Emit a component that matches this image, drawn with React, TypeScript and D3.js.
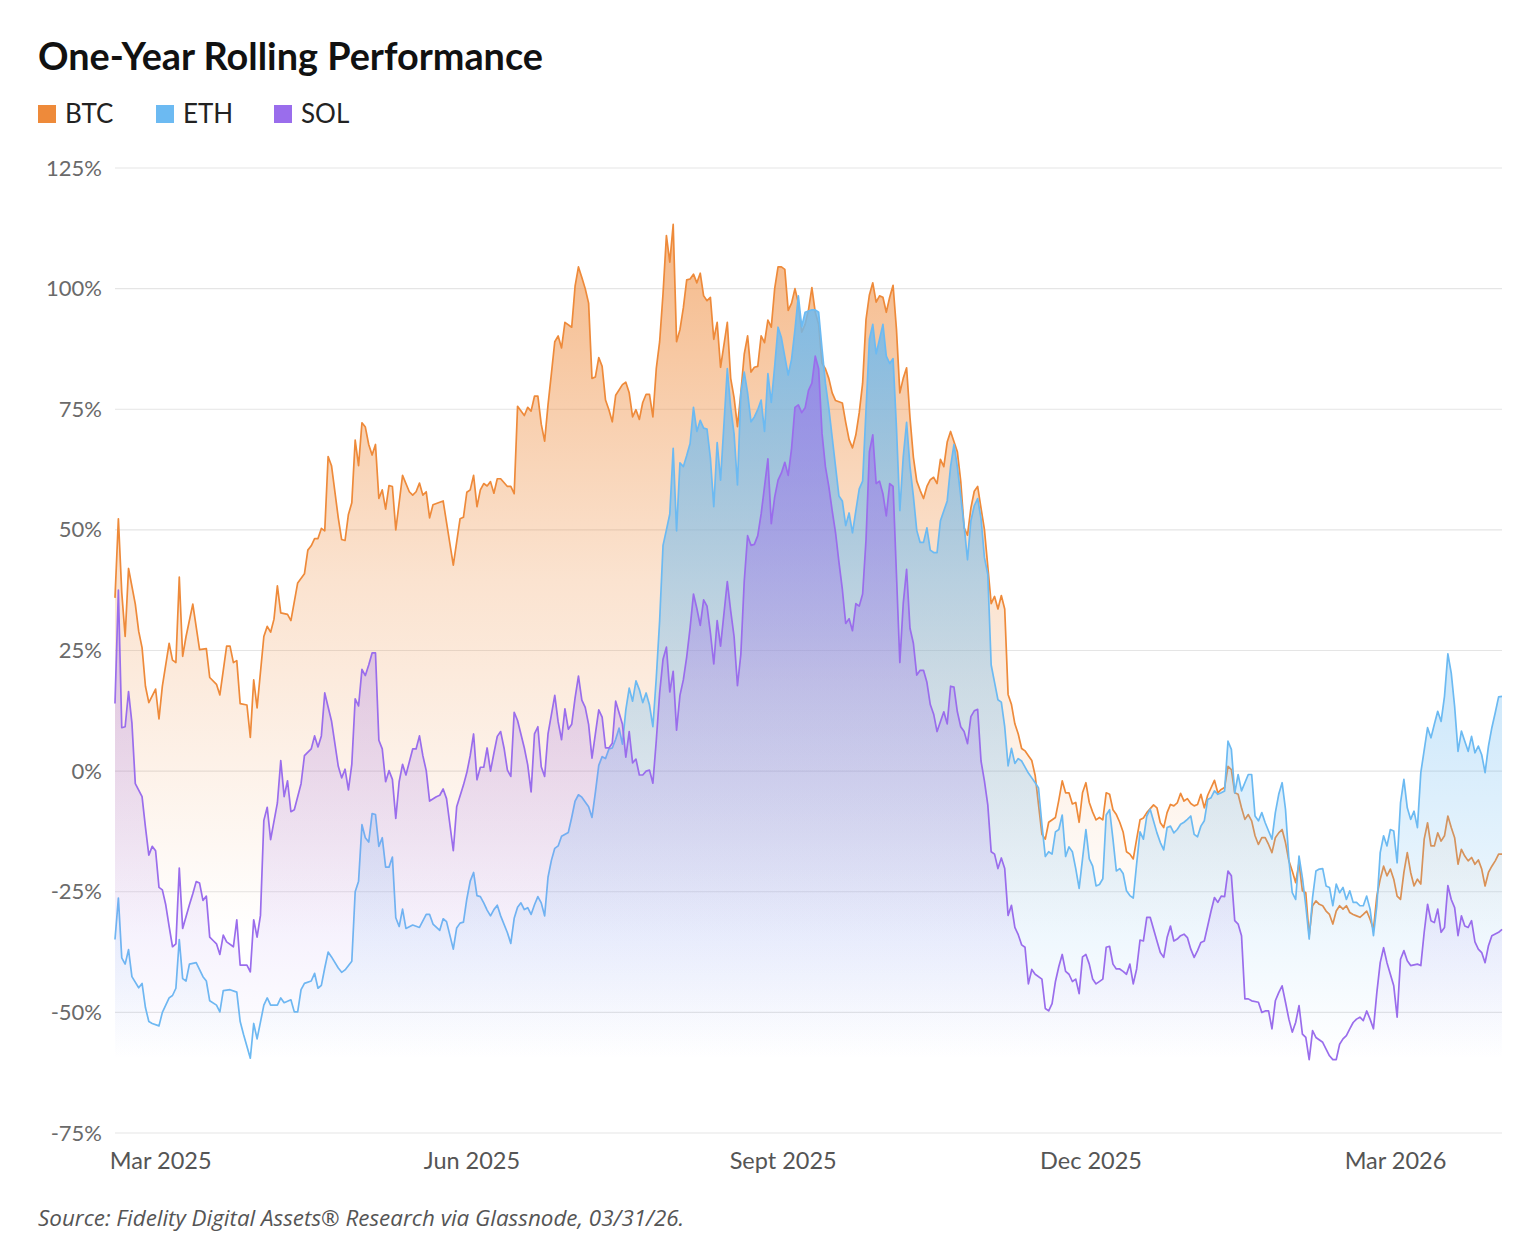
import * as d3 from "d3";

// one-year rolling return (%); first value of each pair = days after START
const START = new Date(2025, 1, 14);
const END = new Date(2026, 2, 31);

const btc: [number, number][] = [
  [0,35.9],[1,52.3],[2,37],[3,27.9],[4,42],[6,34.6],[7,29],[8,25.6],[9,17.6],[10,14.2],[12,17],[13,10.8],[14,17.6],[16,26.5],[17,23],[18,22.5],[19,40.2],[20,23.8],[21,27.9],[23,34.6],[25,25.2],[27,25.4],[28,19.4],[30,18],[31,15.8],[33,25.9],[34,25.9],[35,22.5],[36,22.9],[37,14],[39,13.7],[40,7],[41,18.9],[42,13.1],[44,27.9],[45,30],[46,28.8],[47,31.5],[48,38.4],[49,32.8],[51,32.5],[52,31.2],[54,39],[56,40.9],[57,45.8],[58,46.7],[59,48.2],[60,48.2],[61,50.3],[62,49.8],[63,65.2],[64,63.3],[66,52.5],[67,48],[68,47.8],[69,53.2],[70,55.6],[71,68.6],[72,63.3],[73,72.2],[74,71.3],[75,67.7],[76,65.5],[77,67.7],[78,56.5],[79,58.3],[80,54.3],[81,59.2],[82,59],[83,50],[85,61.3],[87,57.9],[88,57.2],[89,57.9],[90,59.7],[91,57.2],[92,57.9],[93,52.5],[94,55.2],[97,56],[100,42.7],
  [102,52.3],[103,52.6],[104,57.8],[105,58.3],[106,61.3],[107,54.8],[108,58.3],[109,59.6],[110,59.1],[111,60],[112,57.6],[113,60.6],[114,60.6],[116,59],[117,59],[118,57.5],[119,75.6],[121,73.7],[122,75.4],[123,74.6],[124,77.7],[125,77.7],[126,71.9],[127,68.4],[128,75.9],[129,82.4],[130,89],[131,90.2],[132,87.7],[133,93],[135,92],[136,100.5],[137,104.5],[138,102.3],[139,100],[140,97],[141,81.4],[142,81.7],[143,85.7],[144,83.9],[145,76.9],[146,74.9],[147,72.4],[148,77.9],[150,80.1],[151,80.6],[152,78.4],[153,73.4],[154,74.9],[155,72.9],[156,76.4],[157,78.1],[158,78.1],[159,73.4],[160,83.4],[161,89],[162,99],[163,111],[164,105.5],[165,113.3],[166,89],[167,91.5],[168,96],[169,101.8],[170,102],[171,103],[172,101.2],[173,103.2],[174,98.5],[175,97.5],[176,98.2],[177,89.5],[178,93],[179,83.7],[181,93],[182,81.4],[183,77.4],[184,71.4],[185,78.4],[186,86.4],[187,90.2],[188,82.7],[189,83.7],[190,83.9],[191,90.2],[192,88.8],[193,93.5],[194,92],[195,100],[196,104.5],[197,104.5],[198,104],[199,95.5],[200,97],[201,100],[202,97],
  [203,91],[204,92.6],[205,95.6],[206,100.2],[207,95.1],[208,92.6],[209,84.5],[210,83.4],[211,81.4],[212,78.4],[213,76.8],[215,76.3],[216,72.3],[217,68.7],[218,67],[219,69.7],[220,74.3],[221,80.4],[222,93.6],[223,98.7],[224,101.2],[225,97.2],[226,98.5],[227,98.2],[228,95.1],[229,98.2],[230,100.7],[231,91.6],[232,78.4],[233,81.4],[234,83.6],[235,73.3],[236,65.1],[237,60.1],[238,58.2],[239,56.5],[240,59],[241,60.4],[242,60.9],[243,59.6],[244,64.6],[245,63.1],[246,68.2],[247,70.4],[249,66.2],[250,60.1],[251,50.4],[252,48.9],[253,54.5],[254,58],[255,59],[256,54.5],[257,50.1],[259,34.7],[260,36.2],[261,33.6],[262,36.4],[263,33.6],[264,15.9],[265,13.8],[266,9.8],[267,7.7],[268,4.7],[269,4.2],[270,3.2],[271,2.2],[272,-0.9],[273,-7],[274,-13.1],[275,-14.1],[276,-10.6],[278,-9.6],[279,-6],[280,-2],[281,-4.5],[282,-4.5],[283,-6.8],[284,-6.5],[285,-10.6],[286,-4.5],[287,-2.4],[288,-6.5],[289,-8.5],[290,-10.1],[291,-9.6],[292,-10.1],[293,-4.5],[294,-4.8],[295,-8],[296,-9],[297,-10.6],[298,-12.6],[299,-16.7],[300,-17.2],[301,-18.2],[302,-14.1],[303,-10.1],
  [304,-9.7],[305,-8.6],[307,-7],[308,-7.6],[309,-10.7],[310,-11.7],[311,-8.6],[312,-6.9],[313,-7.2],[314,-6.6],[315,-4.6],[316,-6.2],[317,-5.7],[318,-6.7],[319,-7.2],[320,-6.9],[321,-4.8],[322,-7.6],[323,-5],[325,-1.9],[326,-4.5],[327,-3.8],[328,-3.4],[329,1],[330,0.3],[331,-4.5],[332,-4.8],[333,-7.6],[334,-10],[335,-9],[336,-10.3],[337,-13.4],[338,-15.2],[339,-13.8],[340,-13.8],[341,-15.2],[342,-16.9],[343,-13.8],[344,-12.8],[345,-12.1],[346,-14.8],[347,-18.6],[348,-20.7],[349,-23.1],[350,-19],[351,-24.8],[352,-25.2],[353,-34.1],[354,-27.9],[355,-26.9],[356,-27.6],[357,-27.9],[358,-29],[359,-29.7],[360,-31.7],[361,-29],[362,-27.9],[363,-28.6],[364,-27.9],[365,-29.3],[366,-29.7],[367,-30],[368,-30.3],[369,-29.7],[370,-29],[371,-30.7],[372,-32.8],[373,-25.9],[374,-22.4],[375,-19.7],[376,-21.7],[377,-20.3],[378,-22.4],[379,-25.9],[380,-26.6],[381,-21],[382,-16.9],[383,-21],[384,-23.8],[385,-22.4],[386,-23.4],[387,-14.1],[388,-10.7],[389,-15.5],[390,-15.5],[391,-12.8],[392,-14.5],[393,-13.4],[394,-9.3],[395,-11.7],[396,-13.8],[397,-19.3],[398,-16.2],[399,-17.6],[400,-18.6],[401,-17.9],[402,-19.3],[403,-18.4],[404,-20.3],[405,-23.8],[406,-21],[407,-19.7],[408,-18.6],[409,-17.2],[410,-17.2],
];

const eth: [number, number][] = [
  [0,-34.9],[1,-26.3],[2,-38.7],[3,-40],[4,-37],[5,-42.6],[7,-44.9],[8,-44],[9,-49],[10,-51.9],[11,-52.3],[13,-52.8],[14,-50],[16,-47],[17,-46.5],[18,-45],[19,-34.9],[20,-43],[21,-43.5],[22,-40],[24,-39.7],[26,-42.6],[27,-43.5],[28,-47.6],[30,-48.5],[31,-49.9],[32,-45.5],[34,-45.3],[36,-45.8],[37,-51.9],[38,-54.6],[40,-59.5],[41,-52.3],[42,-55.5],[44,-48.5],[45,-47],[46,-48.5],[48,-48.5],[49,-47],[50,-48],[52,-47.4],[53,-49.9],[54,-49.9],[55,-45.3],[56,-44],[58,-43.5],[59,-41.9],[60,-45],[61,-44.4],[62,-40.8],[63,-37.5],[64,-38.5],[66,-40.8],[67,-41.7],[68,-41.2],[70,-39.4],[71,-25],[72,-22.8],[73,-11.1],[74,-13.8],[75,-14.7],[76,-8.8],[77,-9],[78,-15.6],[79,-13.8],[80,-19.9],[81,-19.9],[82,-17.8],[83,-30.4],[84,-32.2],[85,-28.6],[86,-32.6],[88,-31.9],[90,-32.4],[92,-29.7],[93,-29.7],[94,-31.7],[96,-33],[97,-30.6],[98,-31.2],[100,-36.9],
  [101,-32.5],[102,-31.5],[103,-31.3],[104,-26.5],[105,-22.8],[106,-21],[107,-25.8],[108,-26],[109,-27.3],[110,-28.8],[111,-30],[112,-28.7],[113,-27.8],[114,-30],[116,-33.5],[117,-35.7],[118,-30.5],[119,-28.2],[120,-27.3],[121,-28.7],[122,-28.3],[123,-29.7],[124,-27.7],[125,-26],[126,-27.3],[127,-30],[128,-22],[129,-18.5],[130,-16],[131,-15.5],[132,-13.5],[134,-12.7],[135,-9.6],[136,-6.2],[137,-4.9],[138,-5.4],[139,-6.4],[140,-7.4],[141,-9.6],[142,-4.4],[143,1.2],[144,3],[145,2.6],[146,4.6],[147,4.8],[148,6.6],[149,8.9],[150,5.6],[151,12.7],[152,17.2],[153,14.5],[154,18.7],[155,16.9],[156,14.2],[157,16.2],[158,13.7],[159,9.2],[160,19.3],[161,31.2],[162,46.8],[163,50],[164,53.3],[165,66.9],[166,49.8],[167,63.9],[168,63.1],[169,65.4],[170,67.9],[171,75.4],[172,70.4],[173,72.7],[174,71.1],[175,70.9],[176,64.9],[177,54.8],[178,68.1],[179,60.3],[181,83.4],[182,75.4],[183,69.9],[184,59.3],[185,78.4],[186,82.7],[187,78.4],[188,72.4],[189,73.4],[190,74.9],[191,76.9],[192,70.4],[193,82.4],[194,76.4],[195,83.9],[196,92],[197,89.8],[198,85.9],[199,82.1],[200,85.4],[201,91.5],[202,98.5],
  [203,92.1],[204,95.1],[206,95.6],[207,95.6],[208,95.1],[209,87.5],[210,80.4],[211,75.3],[212,69.2],[213,63.1],[214,57],[215,56],[216,50.9],[217,53.5],[218,49.4],[219,54],[220,58.5],[221,60.1],[223,89.5],[224,92.6],[225,86.5],[226,89.5],[227,92.6],[228,86],[229,84.5],[230,85.5],[231,71.2],[232,54],[233,65.1],[234,72.3],[235,63.1],[236,57],[237,49.9],[238,47.4],[239,47.4],[240,50.4],[241,45.8],[242,45.3],[243,45.3],[244,51.9],[246,56],[247,63.1],[248,67.7],[249,63.1],[250,57],[251,50.9],[252,43.8],[253,51.9],[254,55],[255,56.5],[256,52.4],[257,44.3],[258,40.8],[259,22],[260,18.4],[261,14.8],[262,14.3],[263,9.2],[264,1.1],[265,4.7],[266,1.6],[267,2.6],[268,2.1],[270,-0.4],[271,-1.4],[272,-2.4],[273,-3.5],[274,-11.1],[275,-17.7],[276,-16.7],[277,-17.2],[278,-12.6],[279,-12.1],[280,-9.1],[281,-17.7],[282,-15.7],[283,-16.7],[284,-20.2],[285,-24.3],[286,-18.2],[287,-12.1],[288,-18.2],[289,-19.7],[290,-23.8],[291,-23.5],[292,-22.3],[293,-9.1],[294,-8],[295,-14.1],[296,-20.7],[297,-20.2],[298,-21.2],[299,-24.8],[300,-25.8],[301,-26.3],[302,-19.2],[303,-12.6],
  [304,-14.1],[305,-9.3],[306,-7.9],[308,-12.8],[309,-14.8],[310,-16.3],[311,-11.7],[312,-11.4],[313,-12.8],[314,-12.1],[315,-11],[316,-10.6],[317,-10],[318,-9.3],[319,-13.1],[320,-13.6],[321,-11.4],[322,-10.3],[323,-5.9],[324,-5.5],[325,-4.1],[326,-4.8],[327,-4.5],[328,-4.1],[329,6.2],[330,4.5],[331,-4.5],[332,-0.7],[333,-4.1],[335,-0.7],[336,-0.7],[337,-9.3],[338,-10.3],[339,-8.6],[340,-10.7],[341,-12.4],[342,-14.1],[343,-8.6],[344,-4.8],[345,-2.4],[346,-7.9],[347,-18.3],[348,-25.2],[349,-26.6],[350,-17.6],[351,-22.1],[352,-27.9],[353,-34.8],[354,-26.2],[355,-20.7],[356,-20.3],[357,-20.2],[358,-23.8],[359,-24.1],[360,-27.9],[361,-23.4],[362,-25.2],[363,-24.1],[364,-26.6],[365,-24.8],[366,-27.2],[367,-27.2],[368,-27.9],[369,-27.9],[370,-25.9],[371,-28.6],[372,-34.1],[373,-27.9],[374,-16.9],[375,-13.4],[376,-15.5],[377,-12.1],[378,-12.4],[379,-19],[380,-6.6],[381,-1.7],[382,-7.6],[383,-10],[384,-8.3],[385,-11.7],[386,-0.3],[388,9],[389,6.9],[390,9.7],[391,12.4],[392,10.3],[393,15.5],[394,24.3],[395,20.3],[396,13.4],[397,4.1],[398,8.3],[399,6.2],[400,4.1],[401,7.2],[402,3.8],[403,5.2],[404,3.4],[405,-0.3],[406,5.2],[407,9],[408,12.1],[409,15.4],[410,15.5],
];

const sol: [number, number][] = [
  [0,14],[1,37.5],[2,9],[3,9.2],[4,16.5],[5,10],[6,-2.6],[8,-5.3],[9,-11.6],[10,-17.4],[11,-15.6],[12,-16.5],[13,-24.1],[14,-24.6],[15,-27.7],[16,-32.2],[17,-36.4],[18,-35.8],[19,-20.1],[20,-32.6],[22,-27.7],[23,-25.4],[24,-22.9],[25,-23.2],[26,-26.8],[27,-25.9],[28,-34.4],[29,-35.1],[30,-35.8],[31,-38],[32,-34],[33,-35.4],[35,-36.4],[36,-30.8],[37,-40.2],[39,-40.2],[40,-41.6],[41,-30.8],[42,-34.4],[43,-29.9],[44,-10.2],[45,-7.5],[46,-14.2],[48,-6.6],[49,2.2],[50,-5.3],[51,-2],[52,-8.4],[53,-8],[55,-2.6],[56,3.2],[58,4.6],[59,7.3],[60,5],[61,7.3],[62,16.2],[64,10.4],[66,1],[67,-1.4],[68,0.4],[69,-3.9],[70,1.4],[71,15],[72,13.5],[73,21.1],[74,19.8],[75,22],[76,24.5],[77,24.5],[78,6.4],[79,4.6],[80,-2.2],[81,0.1],[82,-1.7],[83,-9.8],[84,-2.2],[85,1.4],[86,-0.8],[88,4.6],[89,4.6],[90,7.3],[91,3.2],[92,0.1],[93,-6.2],[95,-5.3],[96,-5],[97,-3.7],[98,-5.7],[100,-16.5],
  [101,-7.4],[103,-2.9],[104,-0.3],[105,3.2],[106,7.7],[107,-1.8],[108,0.8],[109,0.8],[110,4.8],[111,0],[112,3.7],[113,7.2],[114,8.2],[115,4.8],[116,0.2],[117,-1.1],[118,12.2],[119,10.5],[121,4.8],[122,1.3],[123,-4.3],[124,7.7],[125,9.2],[126,0.9],[127,-1.1],[128,7.7],[130,15.7],[131,10.2],[132,6.5],[133,12.9],[134,8.7],[135,9.7],[136,15.2],[137,19.7],[138,14.7],[139,13.2],[140,9.7],[141,2.7],[142,7.7],[143,12.7],[144,11.2],[145,4.8],[146,4.8],[147,5.8],[148,14.5],[150,9.7],[151,2.9],[152,8.2],[153,1.7],[154,2.5],[155,-0.8],[156,-0.8],[157,0],[158,0.2],[159,-2.5],[160,6.3],[161,16.2],[162,23.2],[163,25.7],[164,16.4],[165,20.7],[166,8.5],[167,15.7],[168,18.9],[169,23.7],[170,29.7],[171,36.7],[172,33.7],[173,30.2],[174,35.5],[175,34.2],[176,28.7],[177,22.2],[178,31.2],[179,25.9],[181,39.3],[182,33.2],[183,27.9],[184,17.7],[185,24.2],[186,39.3],[187,48.8],[188,46.8],[189,47],[190,48.8],[191,53.3],[193,64.7],[194,51.3],[195,56.8],[196,60.3],[197,61.8],[198,64],[199,61.3],[200,66.9],[201,75.4],[202,75.9],
  [203,74.3],[204,75.3],[205,78.9],[206,80.4],[207,86],[208,83.4],[209,70],[210,63.1],[211,59],[212,54],[213,49.4],[214,43.3],[215,37.7],[216,30.6],[217,31.6],[218,29.1],[219,34.7],[220,34.2],[221,36.7],[222,47.9],[223,66.2],[224,69.7],[225,59.6],[226,60.1],[227,57.5],[228,52.9],[229,59.6],[230,59],[231,40.8],[232,22.5],[233,34.7],[234,41.8],[235,29.6],[236,26.5],[237,19.9],[238,20.9],[239,20.9],[240,18.4],[241,13.8],[242,11.8],[243,8.2],[245,12.3],[246,9.8],[247,17.6],[248,17.4],[249,12.3],[250,9.2],[251,8.2],[252,5.7],[253,11.3],[254,12.5],[255,12.8],[256,2.1],[257,-2],[258,-7],[259,-16.7],[260,-17.2],[261,-20.2],[262,-18],[263,-20.2],[264,-29.9],[265,-27.8],[266,-32.4],[267,-33.9],[268,-36],[269,-36.5],[270,-44.1],[271,-41.1],[272,-42.1],[274,-43.1],[275,-49.2],[276,-49.7],[277,-48.2],[278,-43.6],[279,-40.5],[280,-38],[281,-41.5],[282,-42.1],[283,-43.6],[284,-43.1],[285,-46.1],[286,-38.5],[287,-38],[288,-40],[289,-43.1],[290,-44.1],[292,-43.1],[293,-36.5],[294,-36.3],[295,-40],[296,-41],[297,-41],[298,-41.5],[299,-42.1],[300,-40],[301,-44.1],[302,-41],[303,-35],
  [304,-35.2],[305,-30.3],[306,-30.3],[308,-35.2],[309,-37.6],[310,-38.6],[311,-34.5],[312,-32.1],[313,-35.2],[314,-34.8],[315,-34.1],[316,-33.8],[317,-34.5],[318,-36.9],[319,-38.6],[320,-37.2],[321,-35.5],[322,-35.2],[323,-32.1],[324,-29],[325,-26.2],[326,-27.2],[327,-25.9],[328,-26],[329,-20.7],[330,-21.7],[331,-31],[332,-31.7],[333,-34.1],[334,-47.2],[335,-47.2],[336,-47.6],[338,-47.9],[339,-50],[340,-49.7],[341,-49.7],[342,-53.4],[343,-47.6],[344,-45.9],[345,-44.5],[346,-47.9],[347,-51.4],[348,-54.1],[349,-52.1],[350,-48.6],[351,-54.5],[352,-55.2],[353,-59.8],[354,-53.8],[355,-55.2],[357,-56.2],[358,-57.6],[359,-59],[360,-59.8],[361,-59.8],[362,-56.6],[363,-55.5],[364,-54.8],[365,-53.4],[366,-52.1],[367,-51.4],[368,-51],[369,-51.7],[370,-49.7],[371,-51.4],[372,-53.4],[373,-45.9],[374,-39.7],[375,-36.6],[376,-39.7],[377,-42.1],[378,-44.5],[379,-51],[380,-39],[381,-37.2],[382,-39.3],[383,-40.3],[385,-40],[386,-40.3],[387,-33.4],[388,-27.6],[389,-31],[390,-31.4],[391,-28.6],[392,-33.4],[393,-32.4],[394,-23.7],[395,-26.6],[396,-28.3],[397,-34.1],[398,-30],[399,-32.1],[400,-32.4],[401,-31],[402,-35.4],[403,-36.9],[404,-37.6],[405,-39.7],[406,-36.2],[407,-34.1],[409,-33.4],[410,-32.8],
];

const seriesNames = ["BTC", "ETH", "SOL"];
const seriesColors = ["#ee8a3a", "#6cbaf2", "#9a6dec"];
const seriesFillOpacity = [0.6, 0.85, 0.6];
const seriesData = [btc, eth, sol];

const yTicks = [-75, -50, -25, 0, 25, 50, 75, 100, 125];
const xTickDates = ["2025-03-01", "2025-06-01", "2025-09-01", "2025-12-01", "2026-03-01"];
const xTickLabels = ["Mar 2025", "Jun 2025", "Sept 2025", "Dec 2025", "Mar 2026"];

const W = 1526;
const H = 1244;
const FONT = "Lato, 'Open Sans', sans-serif";

export default function App() {
  const x = d3.scaleTime().domain([START, END]).range([115, 1502]);
  const y = d3.scaleLinear().domain([-75, 125]).range([1133, 168]);
  const parse = d3.timeParse("%Y-%m-%d");

  const area = d3
    .area<[number, number]>()
    .x((d) => x(d3.timeDay.offset(START, d[0])))
    .y0(y(-75))
    .y1((d) => y(d[1]));
  const line = d3
    .line<[number, number]>()
    .x((d) => x(d3.timeDay.offset(START, d[0])))
    .y((d) => y(d[1]));

  return (
    <svg
      width={W}
      height={H}
      style={{ position: "absolute", left: 0, top: 0, display: "block", background: "#fff" }}
    >
      <defs>
        {seriesData.map((data, i) => {
          // fill fades from the series' high to its low
          const [lo, hi] = d3.extent(data, (d) => d[1]) as [number, number];
          const a = seriesFillOpacity[i];
          return (
            <linearGradient
              key={seriesNames[i]}
              id={`grad-${seriesNames[i]}`}
              gradientUnits="userSpaceOnUse"
              x1={0}
              x2={0}
              y1={y(hi)}
              y2={y(lo)}
            >
              <stop offset="0" stopColor={seriesColors[i]} stopOpacity={a} />
              <stop offset="0.5" stopColor={seriesColors[i]} stopOpacity={a * 0.4} />
              <stop offset="1" stopColor={seriesColors[i]} stopOpacity={0} />
            </linearGradient>
          );
        })}
      </defs>

      <text x={38} y={70} fontFamily={FONT} fontWeight={700} fontSize={37.8} fill="#111">
        One-Year Rolling Performance
      </text>

      {seriesNames.map((n, i) => (
        <g key={n} transform={`translate(${[38, 156, 274][i]},0)`}>
          <rect x={0} y={105} width={18} height={18} fill={seriesColors[i]} />
          <text x={27} y={123} fontFamily={FONT} fontSize={26} fill="#222">
            {n}
          </text>
        </g>
      ))}

      {yTicks.map((t) => (
        <g key={t}>
          <line x1={115} x2={1502} y1={y(t)} y2={y(t)} stroke="#e5e5e5" strokeWidth={1.2} />
          <text x={102} y={y(t) + 7.5} textAnchor="end" fontFamily={FONT} fontSize={22} fill="#6a6a6a">
            {`${t}%`}
          </text>
        </g>
      ))}

      {seriesData.map((data, i) => (
        <g key={seriesNames[i]}>
          <path d={area(data) ?? ""} fill={`url(#grad-${seriesNames[i]})`} />
          <path d={line(data) ?? ""} fill="none" stroke={seriesColors[i]} strokeWidth={1.7} strokeLinejoin="round" />
        </g>
      ))}

      {xTickDates.map((s, i) => (
        <text key={s} x={x(parse(s)!)} dx={-5} y={1169} textAnchor="middle" fontFamily={FONT} fontSize={23.5} fill="#555">
          {xTickLabels[i]}
        </text>
      ))}

      <text x={38} y={1226} fontFamily="'Open Sans', sans-serif" fontStyle="italic" fontSize={22.4} fill="#555">
        Source: Fidelity Digital Assets® Research via Glassnode, 03/31/26.
      </text>
    </svg>
  );
}
